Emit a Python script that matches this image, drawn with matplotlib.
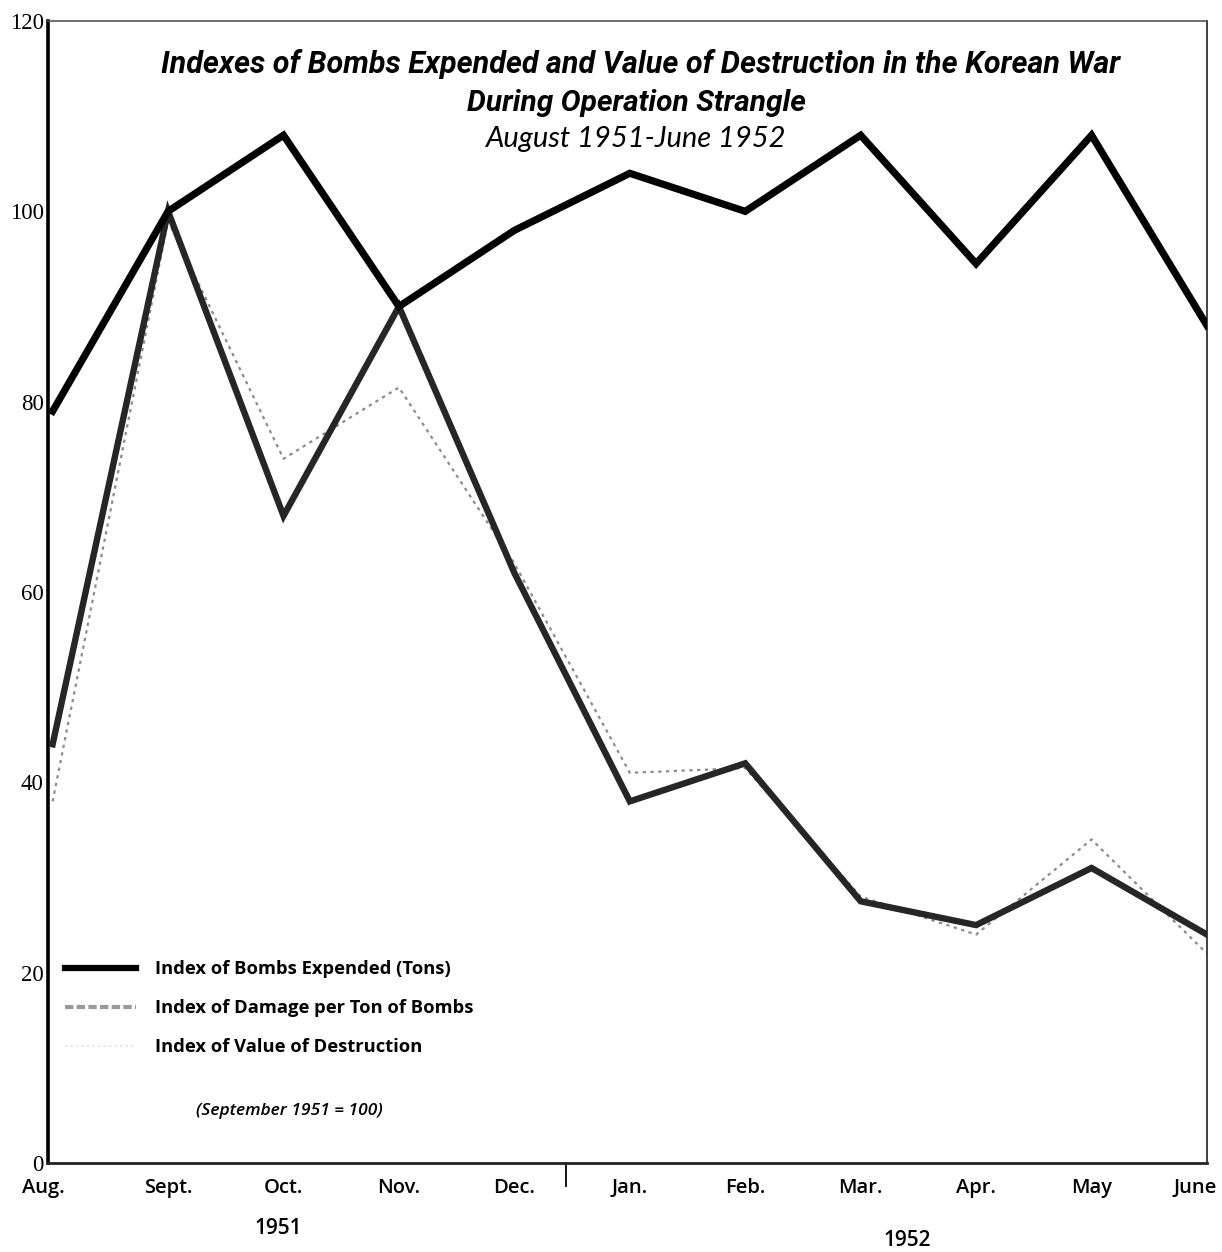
import matplotlib.pyplot as plt
import matplotlib.transforms as mtransforms
from matplotlib.lines import Line2D

# Monthly index values, September 1951 = 100
months = ['Aug.', 'Sept.', 'Oct.', 'Nov.', 'Dec.', 'Jan.', 'Feb.', 'Mar.', 'Apr.', 'May', 'June']
bombs_expended = [79, 100, 108, 90, 98, 104, 100, 108, 94.5, 108, 88]
damage_per_ton = [44, 100, 68, 90, 62, 38, 42, 27.5, 25, 31, 24]
value_destruction = [38, 99, 74, 81.5, 63, 41, 41.5, 28, 24, 34, 22]
y_ticks = [0, 20, 40, 60, 80, 100, 120]

x = list(range(len(months)))

fig = plt.figure(figsize=(12.22, 12.52), dpi=100)
ax = fig.add_axes([0.0393, 0.0711, 0.9484, 0.9121])

# Draw the three series
ax.plot(x, value_destruction, color='#8c8c8c', lw=1.6, ls=(0, (1.5, 2.0)), zorder=2)
ax.plot(x, damage_per_ton, color='#262626', lw=4.6, solid_joinstyle='miter', zorder=3)
ax.plot(x, bombs_expended, color='black', lw=5.2, solid_joinstyle='miter', zorder=4)

ax.set_xlim(-0.04, 10.0)
ax.set_ylim(0, 120)

# Spines as in the printed figure
ax.spines['left'].set_linewidth(2.6)
ax.spines['bottom'].set_linewidth(2.0)
ax.spines['bottom'].set_color('#222222')
ax.spines['top'].set_linewidth(1.2)
ax.spines['top'].set_color('#555555')
ax.spines['right'].set_linewidth(1.3)
ax.spines['right'].set_color('#333333')

# Axis ticks and labels
ax.set_yticks(y_ticks)
ax.set_yticklabels([str(t) for t in y_ticks], family='Liberation Serif', fontsize=16.5)
ax.tick_params(axis='y', length=0, pad=3)
ax.set_xticks(x)
ax.set_xticklabels(months, family='Open Sans', fontweight='semibold', fontsize=14.5)
ax.tick_params(axis='x', length=0, pad=11)

# nudge the end labels like the printed chart
first, last = ax.get_xticklabels()[0], ax.get_xticklabels()[-1]
first.set_transform(first.get_transform() + mtransforms.ScaledTranslation(-0.09, 0, fig.dpi_scale_trans))
last.set_transform(last.get_transform() + mtransforms.ScaledTranslation(-0.12, 0, fig.dpi_scale_trans))

# Year labels and divider between December and January
ax.text(1.95, -6.9, '1951', family='Open Sans', fontweight='semibold', fontsize=15,
        ha='center', va='center', clip_on=False)
ax.text(7.4, -8.1, '1952', family='Open Sans', fontweight='semibold', fontsize=15,
        ha='center', va='center', clip_on=False)
ax.plot([4.45, 4.45], [0, -2.4], color='black', lw=1.3, clip_on=False)

# Title block
fig.text(0.524, 0.949, 'Indexes of Bombs Expended and Value of Destruction in the Korean War',
         family='Roboto', fontweight='bold', style='italic',
         fontsize=22, ha='center', va='center')
fig.text(0.521, 0.918, 'During Operation Strangle',
         family='Roboto', fontweight='bold', style='italic',
         fontsize=21.5, ha='center', va='center')
fig.text(0.521, 0.889, 'August 1951-June 1952', family='Lato', style='italic',
         fontsize=21, ha='center', va='center')

# Legend
handles = [
    Line2D([], [], color='black', lw=4.5),
    Line2D([], [], color='#9a9a9a', lw=3, ls=(0, (2, 0.8))),
    Line2D([], [], color='#e6e6e6', lw=1.5, ls=':'),
]
labels = ['Index of Bombs Expended (Tons)', 'Index of Damage per Ton of Bombs',
          'Index of Value of Destruction']
ax.legend(handles, labels, loc='upper left', bbox_to_anchor=(0.053, 0.233),
          bbox_transform=fig.transFigure, frameon=False, borderpad=0, borderaxespad=0,
          handlelength=3.9, handletextpad=1.0, labelspacing=1.15,
          prop={'family': 'Open Sans', 'weight': 'bold', 'size': 13.2})

fig.text(0.16, 0.113, '(September 1951 = 100)', family='Open Sans', style='italic',
         fontweight='semibold', fontsize=12.5, ha='left', va='center')

fig.savefig('out.png', dpi=100)
